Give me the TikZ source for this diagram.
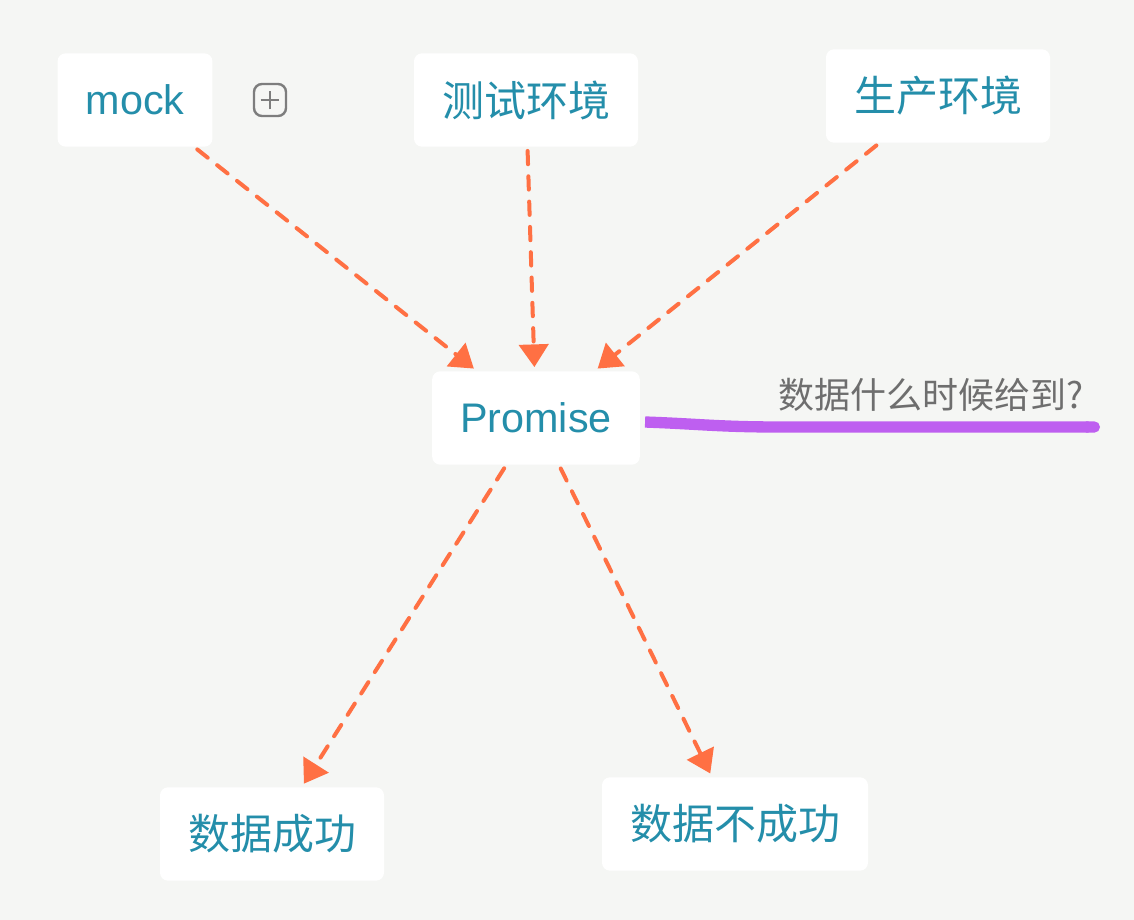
\documentclass[tikz,border=0pt]{standalone}
\usepackage{fontspec}
\setmainfont{Liberation Sans}
\newfontfamily\cjk{Noto Sans CJK SC}
\usetikzlibrary{arrows.meta}
\definecolor{bg}{RGB}{245,246,244}
\definecolor{topic}{RGB}{36,142,170}
\definecolor{arrowc}{RGB}{255,112,67}
\definecolor{rel}{RGB}{190,95,240}
\definecolor{note}{RGB}{110,110,110}
\definecolor{plusc}{RGB}{125,125,125}
\begin{document}
\begin{tikzpicture}[x=0.75pt,y=-0.75pt]
\tikzstyle{box}=[draw=none, fill=white, rounded corners=6pt, text=topic, minimum height=70pt, inner xsep=21pt, font=\fontsize{31}{36}\selectfont]
\tikzstyle{cjkbox}=[box, font=\cjk\fontsize{31.5}{36}\selectfont]
\tikzstyle{link}=[arrowc, line width=3pt, line cap=round, dash pattern=on 10pt off 9pt, -{Triangle[length=17pt,width=22pt]}, shorten <=3pt, shorten >=3pt]
\fill[bg] (0,0) rectangle (1134,920);
\useasboundingbox (0,0) rectangle (1134,920);

\node[box] (Mock) at (135,100) {mock};
\node[cjkbox] (Test) at (526,100) {测试环境};
\node[cjkbox] (Prod) at (938,96) {生产环境};
\node[box] (Pr) at (536,418) {Promise};
\node[cjkbox] (Ok) at (272,834) {数据成功};
\node[cjkbox] (Fail) at (735,824) {数据不成功};

\node[draw=plusc, line width=1.8pt, rounded corners=6pt, minimum size=24pt, inner sep=0pt] (More) at (270,100) {};
\draw[plusc, line width=1.5pt] ([xshift=-7pt]More.center) -- ([xshift=7pt]More.center)
  ([yshift=-7pt]More.center) -- ([yshift=7pt]More.center);

\draw[link] (Mock) edge (Pr);
\draw[link] (Test) edge (Pr);
\draw[link] (Prod) edge (Pr);
\draw[link] (Pr) edge (Ok);
\draw[link] (Pr) edge (Fail);

% relation to the note
\node[text=note, font=\cjk\fontsize{27}{32}\selectfont] (When) at (931,395) {数据什么时候给到?};
\coordinate (WhenEnd) at (1100,427);
\draw[rel, line width=8.5pt, -{Round Cap[]}] ([shift={(5,4)}]Pr.east)
  .. controls (700,424) and (720,427) .. (780,427) -- (WhenEnd);
\end{tikzpicture}
\end{document}
